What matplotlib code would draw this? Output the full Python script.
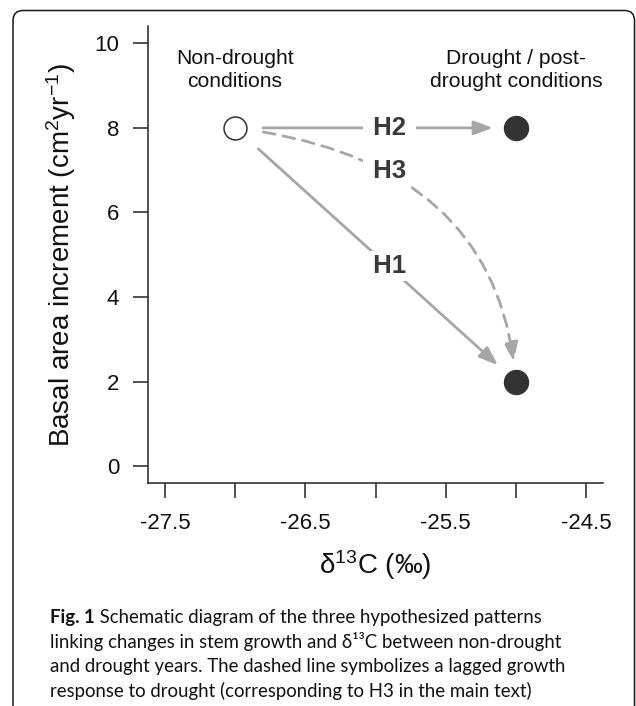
import matplotlib
matplotlib.use('Agg')
from matplotlib import pyplot as plt
from matplotlib.patches import FancyBboxPatch
from matplotlib.transforms import IdentityTransform

# schematic points (non-drought first, then the two drought outcomes)
point_x = [-27.0, -25.0, -25.0]
point_y = [8.0, 8.0, 2.0]
point_filled = [False, True, True]

xticks = [-27.5, -27.0, -26.5, -26.0, -25.5, -25.0, -24.5]
xtick_labels = ['-27.5', '', '-26.5', '', '-25.5', '', '-24.5']
yticks = [0, 2, 4, 6, 8, 10]

# hypotheses: arrow from point 0 to target point
hyp_labels = ['H1', 'H2', 'H3']
hyp_target = [2, 1, 2]
hyp_label_x = [-25.9, -25.9, -25.9]
hyp_label_y = [4.74, 8.0, 6.98]

cond_labels = ['Non-drought\nconditions', 'Drought / post-\ndrought conditions']
cond_x = [-27.0, -25.0]
cond_y = [9.37, 9.37]

caption_lines = [
    ' Schematic diagram of the three hypothesized patterns',
    'linking changes in stem growth and δ¹³C between non-drought',
    'and drought years. The dashed line symbolizes a lagged growth',
    'response to drought (corresponding to H3 in the main text)',
]

plt.rcParams['font.family'] = ['Liberation Sans', 'DejaVu Sans']
plt.rcParams['mathtext.fontset'] = 'custom'
plt.rcParams['mathtext.rm'] = 'Liberation Sans'
plt.rcParams['mathtext.it'] = 'Liberation Sans:italic'
plt.rcParams['mathtext.bf'] = 'Liberation Sans:bold'

W, H = 636, 706
fig = plt.figure(figsize=(W / 100, H / 100), dpi=100)
ax = fig.add_axes([148 / W, 1 - 483 / H, (603 - 148) / W, (483 - 26.4) / H])
ax.set_xlim(-27.62, -24.38)
ax.set_ylim(-0.4, 10.4)

for s in ['top', 'right']:
    ax.spines[s].set_visible(False)
for s in ['left', 'bottom']:
    ax.spines[s].set_linewidth(1.1)
    ax.spines[s].set_color('#222222')

ax.set_xticks(xticks)
ax.set_xticklabels(xtick_labels)
ax.set_yticks(yticks)
ax.tick_params(axis='both', length=10.8, width=1.1, color='#222222',
               labelsize=16, labelcolor='#111111')
ax.tick_params(axis='y', pad=10)
ax.tick_params(axis='x', pad=11)

ax.set_ylabel('Basal area increment (cm$^2$yr$^{-1}$)', fontsize=20, color='#111111')
ax.yaxis.label.set_va('center')
ax.yaxis.set_label_coords(-0.191, 0.5)
ax.set_xlabel('δ$^{13}$C (‰)', fontsize=20, color='#111111')
ax.xaxis.label.set_va('center')
ax.xaxis.set_label_coords(0.5, -0.18)

# arrows
grey = '#a6a6a6'
head = '-|>,head_length=1.15,head_width=0.42'
arrow_style = {
    'H1': dict(shrinkA=22.5, shrinkB=17.4, connectionstyle='arc3,rad=0', linestyle='-'),
    'H2': dict(shrinkA=20, shrinkB=16.5, connectionstyle='arc3,rad=0', linestyle='-'),
    'H3': dict(shrinkA=20.6, shrinkB=14.4, connectionstyle='angle3,angleA=-7,angleB=95',
               linestyle=(0, (4.3, 2.9))),
}
for lab, t in zip(hyp_labels, hyp_target):
    st = arrow_style[lab]
    ax.annotate('', xy=(point_x[t], point_y[t]), xytext=(point_x[0], point_y[0]),
                arrowprops=dict(arrowstyle=head, color=grey, lw=2, mutation_scale=10,
                                **st),
                zorder=2)

for lab, lx, ly in zip(hyp_labels, hyp_label_x, hyp_label_y):
    ax.text(lx, ly, ' ' + lab + ' ', ha='center', va='center', fontsize=18.5,
            fontweight='bold', color='#3a3a3a', zorder=5,
            bbox=dict(boxstyle='square,pad=0.12', fc='white', ec='none'))

for x, y, f in zip(point_x, point_y, point_filled):
    if f:
        ax.plot(x, y, 'o', ms=17.3, mfc='#333333', mec='#333333', mew=1, zorder=6)
    else:
        ax.plot(x, y, 'o', ms=16.5, mfc='white', mec='#333333', mew=1.1, zorder=6)

for s, x, y in zip(cond_labels, cond_x, cond_y):
    ax.text(x, y, s, ha='center', va='center', fontsize=15.2, linespacing=1.3,
            color='#111111')

# rounded frame around the figure
frame = FancyBboxPatch((13, -40), 634.5 - 13, H - 10.5 + 40,
                       boxstyle='round,pad=0,rounding_size=10',
                       transform=IdentityTransform(), fc='none', ec='#1a1a1a', lw=1.1)
fig.add_artist(frame)

# caption
cap_font = ['Lato', 'DejaVu Sans']
cap_size = 13.4
x0 = 50
baselines = [623, 648, 672, 697]
renderer = fig.canvas.get_renderer()
t0 = fig.text(x0 / W, 1 - baselines[0] / H, 'Fig. 1', fontsize=cap_size,
              fontweight='bold', family=cap_font, va='baseline', color='#111111')
bb = t0.get_window_extent(renderer)
fig.text(bb.x1 / W, 1 - baselines[0] / H, caption_lines[0], fontsize=cap_size,
         family=cap_font, va='baseline', color='#111111')
for line, b in zip(caption_lines[1:], baselines[1:]):
    fig.text(x0 / W, 1 - b / H, line, fontsize=cap_size, family=cap_font,
             va='baseline', color='#111111')

fig.savefig('out.png', dpi=100, facecolor='white')
